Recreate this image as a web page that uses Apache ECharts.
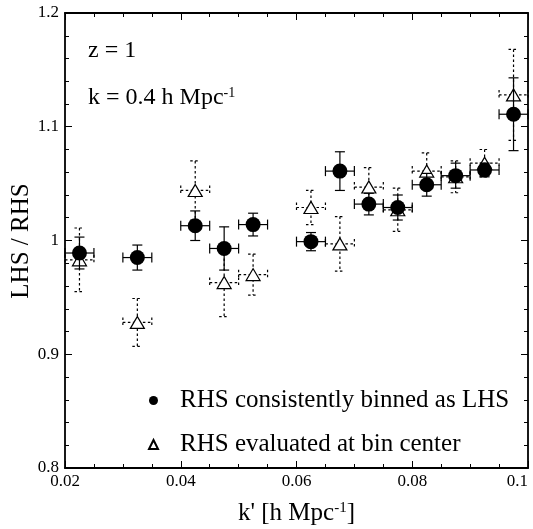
<!DOCTYPE html>
<html>
<head>
<meta charset="utf-8">
<script src="https://cdn.jsdelivr.net/npm/echarts@6/dist/echarts.min.js"></script>
<style>html,body{margin:0;padding:0;background:#fff;}#chart{width:533px;height:529px;}</style>
</head>
<body>
<div id="chart"></div>
<script>
const kCenters = [0.0225, 0.0325, 0.0425, 0.0475, 0.0525, 0.0625, 0.0675, 0.0725, 0.0775, 0.0825, 0.0875, 0.0925, 0.0975];
const binnedVals = [0.989, 0.985, 1.013, 0.993, 1.014, 0.999, 1.061, 1.032, 1.029, 1.049, 1.057, 1.062, 1.111];
const binnedErr = [0.014, 0.011, 0.013, 0.019, 0.010, 0.008, 0.017, 0.0095, 0.011, 0.010, 0.011, 0.006, 0.032];
const centerVals = [0.983, 0.928, 1.044, 0.963, 0.970, 1.029, 0.997, 1.047, 1.027, 1.061, 1.056, 1.068, 1.128];
const centerErr = [0.028, 0.021, 0.026, 0.030, 0.018, 0.015, 0.024, 0.017, 0.019, 0.016, 0.014, 0.012, 0.040];
const binHalfWidth = 0.0025;
const xTicks = [0.02, 0.04, 0.06, 0.08, 0.1];
const yTicks = [0.8, 0.9, 1, 1.1, 1.2];
const seriesNames = ['RHS consistently binned as LHS', 'RHS evaluated at bin center'];
const yTitle = 'LHS / RHS';

const FONT = 'Liberation Serif';
const chart = echarts.init(document.getElementById('chart'), null, {renderer: 'canvas'});

function errData(vals, errs) {
  return kCenters.map((k, i) => [k, vals[i], errs[i]]);
}
function errRender(dashed) {
  return function (params, api) {
    const k = api.value(0), v = api.value(1), e = api.value(2);
    const c = api.coord([k, v]);
    const l = api.coord([k - binHalfWidth, v]);
    const r = api.coord([k + binHalfWidth, v]);
    const t = api.coord([k, v + e]);
    const b = api.coord([k, v - e]);
    const cap = 5;
    const style = {stroke: '#000', lineWidth: 1.2, lineDash: dashed ? [2.5, 2.5] : null};
    const line = (x1, y1, x2, y2) => ({type: 'line', shape: {x1, y1, x2, y2}, style});
    return {
      type: 'group',
      children: [
        line(l[0], c[1], r[0], c[1]),
        line(l[0], c[1] - cap, l[0], c[1] + cap),
        line(r[0], c[1] - cap, r[0], c[1] + cap),
        line(c[0], t[1], c[0], b[1]),
        line(c[0] - cap, t[1], c[0] + cap, t[1]),
        line(c[0] - cap, b[1], c[0] + cap, b[1])
      ]
    };
  };
}

const axisCommon = {
  axisLine: {show: true, onZero: false, lineStyle: {color: '#000', width: 1.8}},
  axisTick: {show: true, inside: true, length: 7, lineStyle: {color: '#000', width: 1}},
  minorTick: {show: true, length: 4, lineStyle: {color: '#000', width: 1}},
  splitLine: {show: false},
  minorSplitLine: {show: false}
};

const option = {
  backgroundColor: '#fff',
  animation: false,
  grid: {left: 65, right: 5, top: 13, bottom: 61, containLabel: false, outerBoundsMode: 'none'},
  xAxis: [
    Object.assign({}, axisCommon, {
      type: 'value', position: 'bottom', min: xTicks[0], max: xTicks[xTicks.length - 1], interval: 0.02,
      minorTick: Object.assign({}, axisCommon.minorTick, {splitNumber: 4}),
      axisLabel: {color: '#000', fontFamily: FONT, fontSize: 17, margin: 5, alignMaxLabel: 'right',
        formatter: v => String(+v.toFixed(4))},
      name: "k' [h Mpc{sup|-1}]", nameLocation: 'middle', nameGap: 33, nameMoveOverlap: false,
      nameTextStyle: {color: '#000', fontFamily: FONT, fontSize: 25,
        rich: {sup: {fontFamily: FONT, fontSize: 15, verticalAlign: 'top', color: '#000'}}}
    }),
    Object.assign({}, axisCommon, {
      type: 'value', position: 'top', min: xTicks[0], max: xTicks[xTicks.length - 1], interval: 0.02,
      minorTick: Object.assign({}, axisCommon.minorTick, {splitNumber: 4}),
      axisLabel: {show: false}
    })
  ],
  yAxis: [
    Object.assign({}, axisCommon, {
      type: 'value', position: 'left', min: yTicks[0], max: yTicks[yTicks.length - 1], interval: 0.1,
      minorTick: Object.assign({}, axisCommon.minorTick, {splitNumber: 5}),
      axisLabel: {color: '#000', fontFamily: FONT, fontSize: 17, margin: 6,
        formatter: v => String(+v.toFixed(4))}
    }),
    Object.assign({}, axisCommon, {
      type: 'value', position: 'right', min: yTicks[0], max: yTicks[yTicks.length - 1], interval: 0.1,
      minorTick: Object.assign({}, axisCommon.minorTick, {splitNumber: 5}),
      axisLabel: {show: false}
    })
  ],
  legend: {
    left: 143, top: 383, orient: 'vertical', itemGap: 19, itemWidth: 9, itemHeight: 9,
    data: [
      {name: seriesNames[0], icon: 'circle'},
      {name: seriesNames[1], icon: 'triangle'}
    ],
    textStyle: {color: '#000', fontFamily: FONT, fontSize: 25, padding: [0, 0, 0, 17]},
    selectedMode: false
  },
  graphic: [
    {type: 'text', left: 88, top: 39, style: {text: 'z = 1', fill: '#000', font: '24px "Liberation Serif"'}},
    {type: 'text', left: 88, top: 86, style: {
      text: 'k = 0.4 h Mpc{sup|-1}', fill: '#000', font: '24px "Liberation Serif"',
      rich: {sup: {fontFamily: FONT, fontSize: 14, verticalAlign: 'top', fill: '#000'}}}},
    {type: 'text', x: 21, y: 241, rotation: Math.PI / 2, style: {
      text: yTitle, fill: '#000', font: '25px "Liberation Serif"', align: 'center', verticalAlign: 'middle'}}
  ],
  series: [
    {
      type: 'custom', name: 'errCenter', renderItem: errRender(true),
      data: errData(centerVals, centerErr), silent: true, z: 1
    },
    {
      type: 'scatter', name: seriesNames[1], symbol: 'triangle', symbolSize: [14, 12],
      itemStyle: {color: '#fff', borderColor: '#000', borderWidth: 1.2, opacity: 1},
      data: kCenters.map((k, i) => [k, centerVals[i]]), z: 2
    },
    {
      type: 'custom', name: 'errBinned', renderItem: errRender(false),
      data: errData(binnedVals, binnedErr), silent: true, z: 3
    },
    {
      type: 'scatter', name: seriesNames[0], symbol: 'circle', symbolSize: 15,
      itemStyle: {color: '#000', opacity: 1},
      data: kCenters.map((k, i) => [k, binnedVals[i]]), z: 4
    }
  ]
};
chart.setOption(option);
</script>
</body>
</html>
